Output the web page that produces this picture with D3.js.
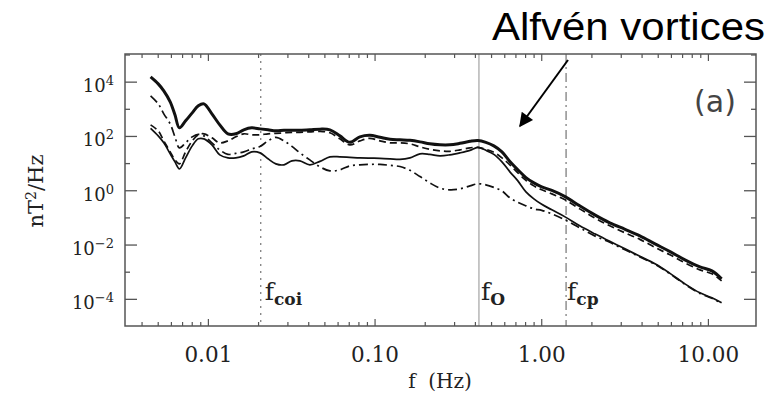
<!DOCTYPE html>
<html>
<head>
<meta charset="utf-8">
<script src="https://cdn.jsdelivr.net/npm/d3@7"></script>
<style>
  html, body { margin: 0; padding: 0; background: #fff; }
  svg { display: block; }
</style>
</head>
<body>
<svg id="chart" width="780" height="397"></svg>
<script>
// ---------------- data ----------------
const freq = [0.0045, 0.005, 0.0054, 0.0059, 0.0063, 0.0067, 0.0073, 0.008, 0.0087, 0.0094,
  0.0105, 0.0117, 0.0131, 0.0146, 0.0163, 0.0182, 0.0204, 0.0228, 0.0254, 0.0284,
  0.0317, 0.0354, 0.0406, 0.0467, 0.0536, 0.0615, 0.0706, 0.0811, 0.0931, 0.107,
  0.123, 0.141, 0.162, 0.186, 0.213, 0.245, 0.281, 0.323, 0.371, 0.414,
  0.462, 0.516, 0.577, 0.644, 0.719, 0.804, 0.897, 1.00, 1.15, 1.38,
  1.69, 2.08, 2.56, 3.16, 3.88, 4.78, 5.88, 7.23, 8.89, 10.5,
  12.0];

const thickSolid = [15700, 8650, 4780, 1880, 625, 207, 376, 740, 1340, 1590,
  680, 267, 125, 125, 175, 207, 190, 175, 161, 168,
  168, 168, 175, 186, 175, 105, 60.6, 96.7, 110, 92.7,
  78.2, 75, 71.8, 63.2, 53.4, 49, 49, 55.7, 66, 70.6,
  60.6, 45, 27.1, 11.9, 5.89, 3.06, 1.95, 1.39, 1.03, 0.611,
  0.278, 0.129, 0.0657, 0.0379, 0.0218, 0.0111, 0.00576, 0.00285, 0.00157, 0.00112,
  0.000569];

const dashed = [267, 161, 68.9, 27.1, 13.7, 9.79, 27.1, 68.9, 115, 125,
  88.8, 58.1, 68.9, 96.7, 125, 115, 115, 125, 130, 136,
  142, 142, 148, 154, 136, 81.6, 49, 68.9, 85.1, 68.9,
  58.1, 58.1, 53.4, 41.4, 33.5, 29.5, 28.3, 32.1, 38, 39.7,
  33.5, 26, 16.3, 9, 4.56, 2.42, 1.51, 1.08, 0.769, 0.462,
  0.215, 0.1, 0.051, 0.0281, 0.0162, 0.00823, 0.00436, 0.00221, 0.00122, 0.000869,
  0.00048];

const thinSolid = [199, 105, 58.1, 22.9, 11.6, 6.41, 16.3, 45, 81.6, 81.6,
  49, 21, 16.3, 16.3, 19.3, 27.1, 24.9, 15, 9.79, 9,
  12.6, 12.6, 9, 12.1, 17.7, 17.7, 17, 16.3, 15.9, 15.6,
  15, 14.3, 16.3, 22.9, 21.9, 19.3, 21, 24.9, 30.8, 39.7,
  30.8, 21.9, 11.6, 4.97, 2.31, 0.911, 0.503, 0.316, 0.198, 0.109,
  0.051, 0.0259, 0.0137, 0.00724, 0.00384, 0.00203, 0.000907, 0.000372, 0.000174, 0.000114,
  0.0000743];

const dashDot = [3130, 1590, 680, 291, 96.7, 38, 58.1, 96.7, 119, 105,
  58.1, 32.1, 21.9, 23.9, 27.1, 34.9, 42.5, 68.9, 92.7, 68.9,
  43.2, 24.9, 13.7, 7.59, 5.41, 5.89, 8.26, 9, 9.38, 9.38,
  8.62, 7.79, 5.64, 3.33, 1.95, 1.25, 1.08, 1.17, 1.51, 1.8,
  1.65, 1.33, 0.99, 0.548, 0.374, 0.278, 0.215, 0.19, 0.141, 0.0848,
  0.043, 0.0218, 0.0126, 0.00665, 0.00367, 0.00195, 0.000869, 0.000357, 0.000166, 0.000109,
  0.0000713];

const xTickValues = [0.01, 0.1, 1, 10];
const xTickLabels = ["0.01", "0.10", "1.00", "10.00"];
const yTickValues = [1e4, 1e2, 1e0, 1e-2, 1e-4];
const yTickExps = ["4", "2", "0", "\u22122", "\u22124"];

const markerFreqs = [0.0206, 0.42, 1.40];
const markerSubs = ["coi", "O", "cp"];

// ---------------- layout ----------------
const svg = d3.select("#chart");
const L = 125, R = 756, T = 54, B = 326;

const x = d3.scaleLog().domain([0.00316, 19.3]).range([L, R]);
const y = d3.scaleLog().domain([1e-5, 1e5]).range([326.5, 55]);

svg.append("rect").attr("width", 780).attr("height", 397).attr("fill", "#fff");

const frameColor = "#555";
const serif = "'DejaVu Serif', 'Liberation Serif', serif";

// vertical marker lines
const markerDash = ["2,5", null, "9,4,2,4"];
const markerColor = ["#888", "#aaa", "#888"];
markerFreqs.forEach((f, i) => {
  svg.append("line")
    .attr("x1", x(f)).attr("x2", x(f))
    .attr("y1", T).attr("y2", B)
    .attr("stroke", markerColor[i])
    .attr("stroke-width", i === 1 ? 1.3 : 1.4)
    .attr("stroke-dasharray", markerDash[i]);
});

// marker labels
const markerOff = [4, 2, 1];
markerFreqs.forEach((f, i) => {
  const t = svg.append("text")
    .attr("x", x(f) + markerOff[i]).attr("y", 300)
    .attr("font-family", serif).attr("font-size", 25).attr("fill", "#222");
  t.append("tspan").text("f");
  t.append("tspan").attr("dy", 5).attr("font-size", 17).attr("font-weight", "bold").text(markerSubs[i]);
});

// curves
const line = d3.line()
  .x(d => x(d[0])).y(d => y(d[1]))
  .curve(d3.curveCatmullRom.alpha(0.5));

const series = [
  { v: dashDot, w: 1.7, dash: "9,4,2,4" },
  { v: thinSolid, w: 1.7, dash: null },
  { v: dashed, w: 1.7, dash: "7,4" },
  { v: thickSolid, w: 3.0, dash: null }
];
series.forEach(s => {
  svg.append("path")
    .datum(freq.map((f, i) => [f, s.v[i]]))
    .attr("d", line)
    .attr("fill", "none")
    .attr("stroke", "#111")
    .attr("stroke-width", s.w)
    .attr("stroke-linejoin", "round")
    .attr("stroke-dasharray", s.dash);
});

// frame
svg.append("rect")
  .attr("x", L).attr("y", T).attr("width", R - L).attr("height", B - T)
  .attr("fill", "none").attr("stroke", frameColor).attr("stroke-width", 1.5);

// y ticks (every decade, inward, both sides)
const yDecades = d3.range(-4, 6).map(e => Math.pow(10, e));
yDecades.forEach(v => {
  const major = yTickValues.includes(v);
  const len = major ? 12 : 5;
  const yy = y(v);
  if (yy < T + 1 || yy > B - 1) return;
  svg.append("line").attr("x1", L).attr("x2", L + len).attr("y1", yy).attr("y2", yy)
    .attr("stroke", frameColor).attr("stroke-width", 1.3);
  svg.append("line").attr("x1", R).attr("x2", R - len).attr("y1", yy).attr("y2", yy)
    .attr("stroke", frameColor).attr("stroke-width", 1.3);
});

// x ticks (minor 1..9 per decade, inward, top and bottom)
const xMinor = [];
[-3, -2, -1, 0, 1].forEach(e => {
  for (let m = 1; m <= 9; m++) xMinor.push(m * Math.pow(10, e));
});
xMinor.forEach(v => {
  const xx = x(v);
  if (xx <= L + 1 || xx >= R - 1) return;
  const major = xTickValues.some(t => Math.abs(t - v) / t < 1e-6);
  const len = major ? 7 : 4;
  svg.append("line").attr("x1", xx).attr("x2", xx).attr("y1", B).attr("y2", B - len)
    .attr("stroke", frameColor).attr("stroke-width", 1.2);
  svg.append("line").attr("x1", xx).attr("x2", xx).attr("y1", T).attr("y2", T + len)
    .attr("stroke", frameColor).attr("stroke-width", 1.2);
});

// x tick labels
xTickValues.forEach((v, i) => {
  svg.append("text")
    .attr("x", x(v)).attr("y", 362)
    .attr("text-anchor", "middle")
    .attr("font-family", serif).attr("font-size", 21.5).attr("fill", "#222")
    .text(xTickLabels[i]);
});

// y tick labels
yTickValues.forEach((v, i) => {
  const t = svg.append("text")
    .attr("x", 114).attr("y", y(v) + 10)
    .attr("text-anchor", "end")
    .attr("font-family", serif).attr("font-size", 18).attr("fill", "#222");
  t.append("tspan").text("10");
  t.append("tspan").attr("dy", -7).attr("font-size", 13).text(yTickExps[i]);
});

// axis titles
const yt = svg.append("text")
  .attr("transform", "translate(43,191) rotate(-90)")
  .attr("text-anchor", "middle")
  .attr("font-family", serif).attr("font-size", 21).attr("fill", "#222");
yt.append("tspan").text("nT");
yt.append("tspan").attr("dy", -7).attr("font-size", 14).text("2");
yt.append("tspan").attr("dy", 7).text("/Hz");

svg.append("text")
  .attr("x", 440).attr("y", 388)
  .attr("text-anchor", "middle")
  .attr("font-family", serif).attr("font-size", 20).attr("fill", "#222")
  .attr("xml:space", "preserve")
  .text("f  (Hz)");

// panel label
svg.append("text")
  .attr("x", 715).attr("y", 112)
  .attr("text-anchor", "middle")
  .attr("font-family", "'DejaVu Sans', sans-serif").attr("font-size", 30).attr("fill", "#444")
  .text("(a)");

// annotation
svg.append("text")
  .attr("x", 492).attr("y", 40)
  .attr("font-family", "'Liberation Sans', Arial, sans-serif").attr("font-size", 39)
  .attr("fill", "#000")
  .attr("textLength", 273).attr("lengthAdjust", "spacingAndGlyphs")
  .text("Alfvén vortices");

svg.append("defs").append("marker")
  .attr("id", "ah").attr("viewBox", "0 0 10 10")
  .attr("refX", 9).attr("refY", 5)
  .attr("markerWidth", 9).attr("markerHeight", 7)
  .attr("markerUnits", "strokeWidth")
  .attr("orient", "auto")
  .append("path").attr("d", "M0,0 L10,5 L0,10 z").attr("fill", "#000");

svg.append("line")
  .attr("x1", 568).attr("y1", 60).attr("x2", 520).attr("y2", 126)
  .attr("stroke", "#000").attr("stroke-width", 2)
  .attr("marker-end", "url(#ah)");
</script>
</body>
</html>
